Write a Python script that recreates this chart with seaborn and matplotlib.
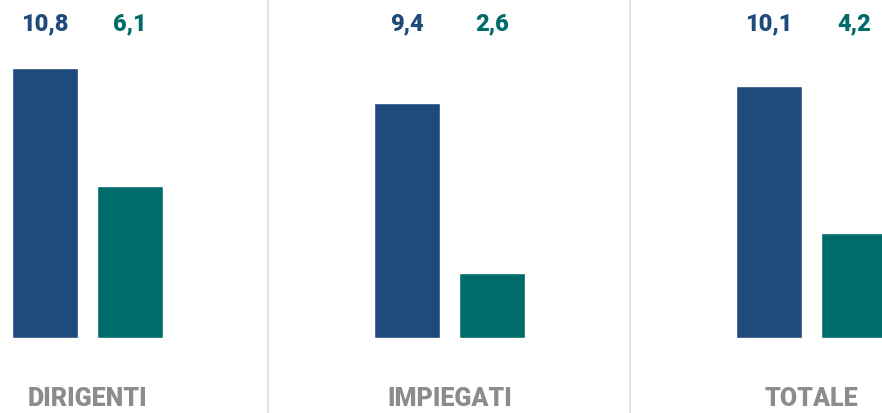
import matplotlib
matplotlib.use("Agg")
import matplotlib.pyplot as plt
import pandas as pd
import seaborn as sns

# data
categories = ["DIRIGENTI", "IMPIEGATI", "TOTALE"]
series = ["A", "B"]
values_a = [10.8, 9.4, 10.1]
values_b = [6.1, 2.6, 4.2]
labels_a = ["10,8", "9,4", "10,1"]
labels_b = ["6,1", "2,6", "4,2"]

blue = "#1F4A7C"
teal = "#006B6B"
grey = "#8C8C8C"

df = pd.DataFrame({
    "cat": categories * 2,
    "serie": [series[0]] * 3 + [series[1]] * 3,
    "val": values_a + values_b,
})

sns.set_style("white")
plt.rcParams["font.family"] = ["Roboto", "DejaVu Sans"]

fig = plt.figure(figsize=(8.82, 4.14), dpi=100)
ax = fig.add_axes([0, 0, 1, 1])

sns.barplot(data=df, x="cat", y="val", hue="serie", palette=[blue, teal],
            width=0.47, gap=0.225, legend=False, ax=ax, saturation=1)

ax.set_xlim(-0.2417, 2.1948)
ax.set_ylim(-3.0, 13.56)

off = 0.1174
for i, cat in enumerate(categories):
    ax.text(i - off, 12.6, labels_a[i], ha="center", va="center",
            color=blue, fontsize=17, fontweight="black")
    ax.text(i + off, 12.6, labels_b[i], ha="center", va="center",
            color=teal, fontsize=17, fontweight="black")
    ax.text(i, -2.4, cat, ha="center", va="center",
            color=grey, fontsize=18, fontweight="black")

for xs in [0.5, 1.5]:
    ax.axvline(xs, color="#DDDDDD", lw=1.2)

ax.axis("off")
fig.savefig("out.png", dpi=100)
